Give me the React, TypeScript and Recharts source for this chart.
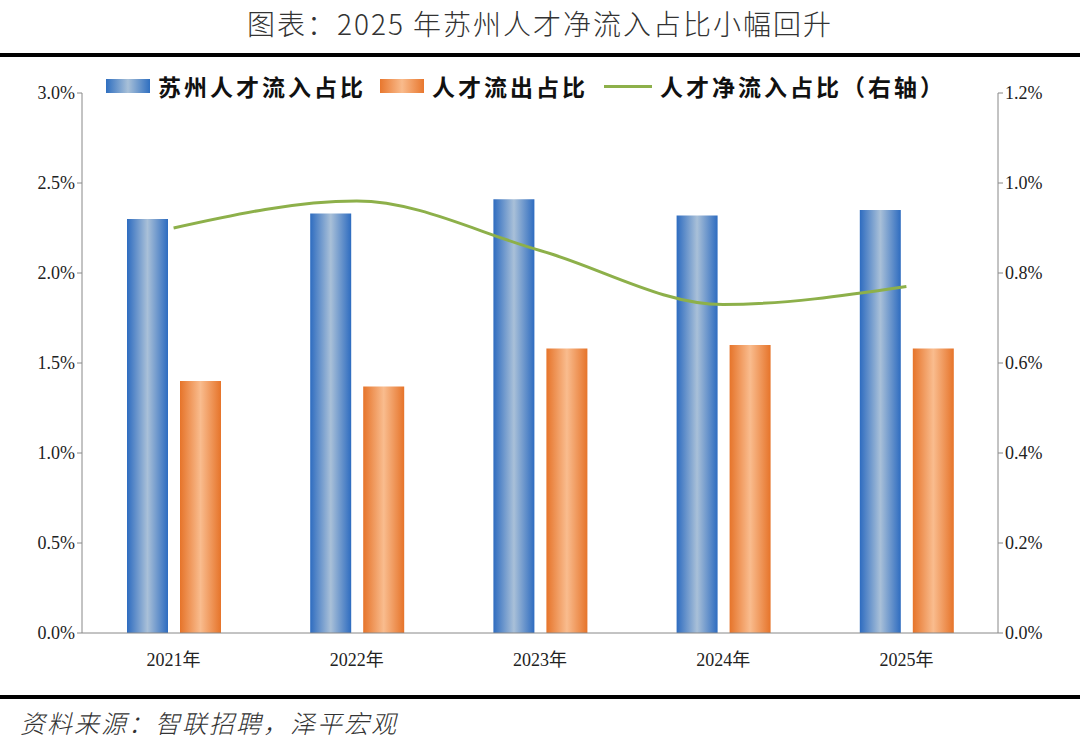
import { Bar, ComposedChart, Line, XAxis, YAxis } from "recharts";

const years = ["2021年", "2022年", "2023年", "2024年", "2025年"];
const inflow = [2.3, 2.33, 2.41, 2.32, 2.35];
const outflow = [1.4, 1.37, 1.58, 1.6, 1.58];
const netInflow = [0.9, 0.96, 0.85, 0.73, 0.77];
const leftTicks = [0, 0.5, 1, 1.5, 2, 2.5, 3];
const rightTicks = [0, 0.2, 0.4, 0.6, 0.8, 1, 1.2];

const data = years.map((year, i) => ({ year, inflow: inflow[i], outflow: outflow[i], net: netInflow[i] }));

const serif = "'Liberation Serif', 'Noto Sans CJK SC', serif";
const tick = { fill: "#222", fontSize: 18, fontFamily: serif };

export default function App() {
  return (
    <div style={{ position: "absolute", left: 0, top: 0, width: 1080, height: 752, background: "#fff", fontFamily: serif }}>
      <div style={{ position: "absolute", top: 3, width: 1080, textAlign: "center", fontSize: 28, color: "#333", fontFamily: "'Noto Sans CJK SC'", fontWeight: 300, letterSpacing: 2 }}>
        图表：2025 年苏州人才净流入占比小幅回升
      </div>
      <div style={{ position: "absolute", top: 53, left: 0, width: 1080, height: 4, background: "#000" }} />
      <div style={{ position: "absolute", top: 695, left: 0, width: 1080, height: 4, background: "#000" }} />
      <div style={{ position: "absolute", top: 704, left: 20, fontSize: 25, fontStyle: "italic", color: "#333", fontFamily: "'Noto Sans CJK SC'", fontWeight: 300, letterSpacing: 2 }}>
        资料来源：智联招聘，泽平宏观
      </div>
      <div style={{ position: "absolute", top: 69, left: 106, display: "flex", alignItems: "center", fontSize: 23, letterSpacing: 3, fontWeight: 700, fontFamily: "'Noto Sans CJK SC'", color: "#111" }}>
        <span style={{ width: 44, height: 14, background: "linear-gradient(to right,#2f6fc0,#a8c0d8,#2f6fc0)", marginRight: 8 }} />
        <span style={{ marginRight: 14 }}>苏州人才流入占比</span>
        <span style={{ width: 44, height: 14, background: "linear-gradient(to right,#e8772e,#f9bb8c,#e8772e)", marginRight: 8 }} />
        <span style={{ marginRight: 16 }}>人才流出占比</span>
        <span style={{ width: 48, height: 3, background: "#8db04a", marginRight: 8 }} />
        <span>人才净流入占比（右轴）</span>
      </div>
      <div style={{ position: "absolute", top: 0, left: 0 }}>
        <ComposedChart width={1080} height={690} data={data} margin={{ top: 93, right: 0, bottom: 17, left: 0 }} barSize={41} barGap={12}>
          <defs>
            <linearGradient id="gBlue" x1="0" y1="0" x2="1" y2="0">
              <stop offset="0" stopColor="#2e6cc0" />
              <stop offset="0.5" stopColor="#a9c0d8" />
              <stop offset="1" stopColor="#2e6cc0" />
            </linearGradient>
            <linearGradient id="gOrange" x1="0" y1="0" x2="1" y2="0">
              <stop offset="0" stopColor="#e6742a" />
              <stop offset="0.5" stopColor="#f9bc8e" />
              <stop offset="1" stopColor="#e6742a" />
            </linearGradient>
          </defs>
          <XAxis dataKey="year" height={40} tick={tick} tickLine={false} axisLine={{ stroke: "#888" }} tickMargin={14} />
          <YAxis yAxisId="l" width={82} domain={[0, 3]} ticks={leftTicks} tickFormatter={(v) => v.toFixed(1) + "%"} tick={tick} axisLine={{ stroke: "#888" }} tickLine={{ stroke: "#888" }} tickSize={5} />
          <YAxis yAxisId="r" orientation="right" width={82} domain={[0, 1.2]} ticks={rightTicks} tickFormatter={(v) => v.toFixed(1) + "%"} tick={tick} axisLine={{ stroke: "#888" }} tickLine={{ stroke: "#888" }} tickSize={5} />
          <Bar yAxisId="l" dataKey="inflow" fill="url(#gBlue)" isAnimationActive={false} />
          <Bar yAxisId="l" dataKey="outflow" fill="url(#gOrange)" isAnimationActive={false} />
          <Line yAxisId="r" dataKey="net" type="monotone" stroke="#8db04a" strokeWidth={3} dot={false} isAnimationActive={false} />
        </ComposedChart>
      </div>
    </div>
  );
}
